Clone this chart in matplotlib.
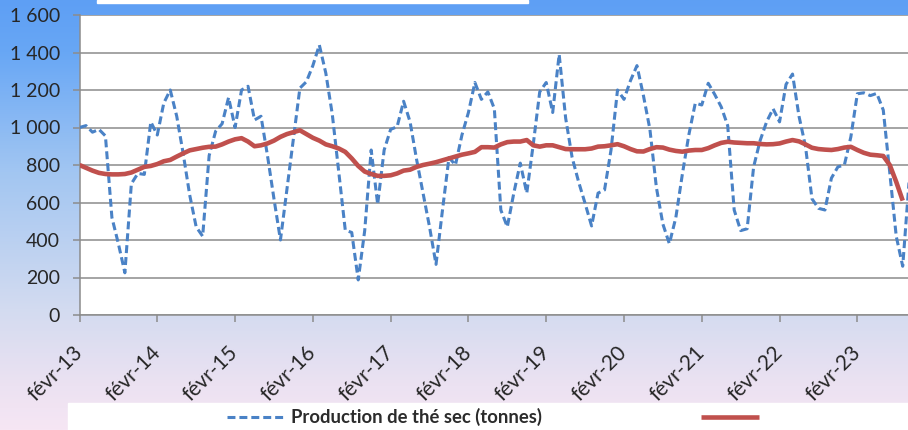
import numpy as np
import matplotlib.pyplot as plt
from matplotlib.colors import LinearSegmentedColormap
from matplotlib.patches import Rectangle

# Production mensuelle de thé sec (tonnes), de févr-13 à oct-23
production = [1000, 1010, 975, 990, 955, 520, 380, 225, 700, 755, 750, 1030,
              960, 1130, 1200, 1060, 860, 640, 470, 420, 850, 980, 1020, 1160,
              1000, 1200, 1220, 1040, 1060, 850, 620, 400, 670, 940, 1210, 1244,
              1330, 1440, 1290, 1070, 760, 453, 440, 187, 450, 880, 590, 880,
              990, 1004, 1140, 1030, 830, 650, 470, 270, 560, 840, 800, 960,
              1080, 1240, 1150, 1190, 1100, 560, 470, 650, 810, 650, 910, 1190,
              1240, 1080, 1390, 1050, 840, 710, 595, 475, 650, 667, 880, 1200,
              1150, 1250, 1330, 1170, 990, 680, 485, 380, 520, 750, 960, 1130,
              1120, 1236, 1176, 1110, 1010, 560, 450, 460, 790, 930, 1030, 1100,
              1030, 1230, 1285, 1060, 900, 620, 569, 560, 730, 790, 800, 950,
              1180, 1185, 1170, 1182, 1093, 760, 420, 260, 720]

# Tendance (courbe rouge), de févr-13 à sept-23
tendance = [800, 785, 770, 758, 752, 750, 750, 752, 760, 775, 790, 795,
            805, 820, 827, 845, 862, 878, 885, 892, 897, 898, 910, 925,
            937, 943, 925, 900, 905, 915, 930, 950, 965, 975, 985, 965,
            945, 930, 910, 900, 888, 870, 835, 795, 765, 752, 742, 742,
            745, 755, 770, 775, 790, 800, 807, 815, 825, 835, 845, 855,
            862, 870, 895, 895, 893, 910, 922, 925, 925, 933, 905, 898,
            905, 905, 895, 885, 884, 884, 884, 888, 898, 900, 905, 911,
            900, 885, 873, 872, 885, 895, 893, 882, 875, 871, 877, 880,
            880, 890, 905, 918, 924, 920, 918, 916, 916, 912, 910, 911,
            915, 925, 933, 926, 910, 892, 885, 882, 880, 885, 893, 897,
            880, 865, 855, 852, 848, 800, 710, 610]

x_labels = ['févr-13', 'févr-14', 'févr-15', 'févr-16', 'févr-17', 'févr-18',
            'févr-19', 'févr-20', 'févr-21', 'févr-22', 'févr-23']
y_ticks = [0, 200, 400, 600, 800, 1000, 1200, 1400, 1600]
y_labels = ['0', '200', '400', '600', '800', '1 000', '1 200', '1 400', '1 600']
legend_label = 'Production de thé sec (tonnes)'

plt.rcParams['font.family'] = ['Lato', 'DejaVu Sans']

W, H = 908, 430
fig = plt.figure(figsize=(W / 100, H / 100), dpi=100)

# fond en dégradé bleu -> rose
bg = fig.add_axes([0, 0, 1, 1], zorder=-10)
cmap_bg = LinearSegmentedColormap.from_list(
    'bg', [(0, '#5e9ff4'), (0.12, '#68a7f5'), (0.4, '#a2c6f2'),
           (0.72, '#d3dbf0'), (0.9, '#ece2f2'), (1, '#f6e6f4')])
grad = np.linspace(0, 1, 256).reshape(-1, 1)
bg.imshow(grad, aspect='auto', cmap=cmap_bg, extent=[0, 1, 0, 1])
bg.set_axis_off()

# cadres blancs (titre en haut, légende en bas)
fig.patches.append(Rectangle((97 / W, 1 - 3 / H), (528 - 97) / W, 3 / H,
                             transform=fig.transFigure, color='white', zorder=-5))
fig.patches.append(Rectangle((68 / W, 0), 1 - 68 / W, 27 / H,
                             transform=fig.transFigure, color='white', zorder=-5))

ax = fig.add_axes([79.5 / W, 1 - 315 / H, 1 - 79.5 / W, 300 / H])
x = np.arange(len(production))
ax.plot(x, production, color='#4a82c6', lw=2.2, dashes=(2.6, 1.3),
        label=legend_label, zorder=3)
ax.plot(x[:len(tendance)], tendance, color='#c0504d', lw=3.3, label=' ',
        zorder=4, solid_capstyle='butt')

ax.set_ylim(0, 1600)
ax.set_xlim(0, (W - 79.5) / 6.482)
ax.set_yticks(y_ticks)
ax.set_yticklabels(y_labels)
ax.set_xticks(np.arange(len(x_labels)) * 12)
ax.set_xticklabels(x_labels, rotation=45, ha='right', va='center',
                   rotation_mode='anchor')

ax.grid(axis='y', color='#8c8c8c', lw=1.1)
ax.set_axisbelow(True)
for s in ['top', 'right']:
    ax.spines[s].set_visible(False)
for s in ['left', 'bottom']:
    ax.spines[s].set_color('#8c8c8c')
    ax.spines[s].set_linewidth(1.1)
ax.tick_params(axis='y', length=5, width=1.1, color='#8c8c8c', pad=9,
               labelsize=14, labelcolor='#262626')
ax.tick_params(axis='x', length=5, width=1.1, color='#8c8c8c', pad=20,
               labelsize=15, labelcolor='#262626')

leg = fig.legend(loc='center left', bbox_to_anchor=(227 / W, 1 - 417 / H),
                 ncol=2, frameon=False, borderpad=0, borderaxespad=0,
                 handlelength=3.15, handletextpad=0.33, columnspacing=8.6,
                 prop={'weight': 'bold', 'size': 13.3})
for t in leg.get_texts():
    t.set_color('#2b2b2b')

fig.savefig('out.png', dpi=100)
